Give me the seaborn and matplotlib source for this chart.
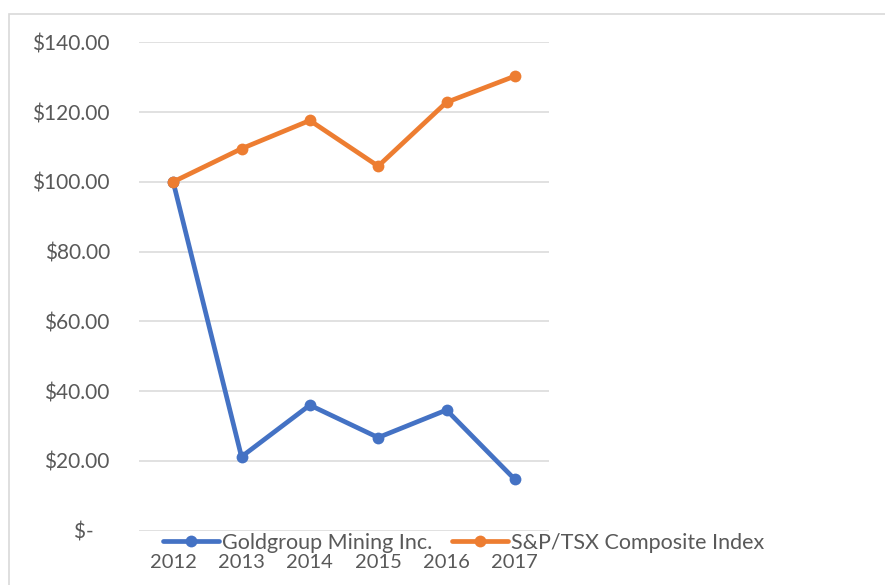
import matplotlib
matplotlib.use("Agg")
import matplotlib.pyplot as plt
import seaborn as sns
import pandas as pd
from matplotlib.patches import Rectangle
from matplotlib.lines import Line2D

years = [2012, 2013, 2014, 2015, 2016, 2017]
goldgroup = [100.0, 21.2, 36.0, 26.7, 34.6, 14.7]
sptsx = [100.0, 109.5, 117.6, 104.5, 122.8, 130.3]
series_names = ["Goldgroup Mining Inc.", "S&P/TSX Composite Index"]
y_ticks = [0, 20, 40, 60, 80, 100, 120, 140]
y_labels = ["$-   ", "$20.00", "$40.00", "$60.00", "$80.00", "$100.00", "$120.00", "$140.00"]

df = pd.DataFrame({
    "year": years * 2,
    "value": goldgroup + sptsx,
    "series": [series_names[0]] * len(years) + [series_names[1]] * len(years),
})

sns.set_theme(style="white")
plt.rcParams["font.family"] = ["Lato", "DejaVu Sans"]

fig = plt.figure(figsize=(8.85, 5.85), dpi=100)
W, H = 885, 585
ax = fig.add_axes([139 / W, 1 - 530.7 / H, (549 - 139) / W, (530.7 - 42.3) / H])

# outer chart border
fig.patches.append(Rectangle((9 / W, -0.05), 1.0, 1 - 14 / H + 0.05,
                             transform=fig.transFigure, fill=False,
                             edgecolor="#d9d9d9", linewidth=1.2, zorder=0))

palette = {series_names[0]: "#4472c4", series_names[1]: "#ed7d31"}
sns.lineplot(data=df, x="year", y="value", hue="series", palette=palette,
             marker="o", markersize=8.5, markeredgewidth=0, linewidth=3.4,
             ax=ax, legend=False, zorder=3)

ax.set_xlim(years[0] - 0.5, years[-1] + 0.5)
ax.set_ylim(0, 140)
ax.set_yticks(y_ticks)
ax.set_yticklabels(y_labels)
ax.set_xticks(years)
ax.set_xticklabels([str(y) for y in years])
ax.set_xlabel("")
ax.set_ylabel("")
ax.grid(axis="y", color="#d9d9d9", linewidth=1.1)
ax.grid(axis="x", visible=False)
for s in ax.spines.values():
    s.set_visible(False)
ax.tick_params(axis="y", length=0, pad=21, labelsize=15, labelcolor="#595959")
ax.tick_params(axis="x", length=0, pad=16.5, labelsize=14.5, labelcolor="#595959")

handles = [Line2D([0], [0], color=palette[n], linewidth=3.4, marker="o",
                  markersize=8.5, markeredgewidth=0) for n in series_names]
fig.legend(handles, series_names, loc="center", bbox_to_anchor=(463.5 / W, 1 - 543 / H),
           ncol=2, frameon=False, fontsize=15.5, labelcolor="#595959",
           handlelength=2.6, handletextpad=0.14, columnspacing=0.9,
           borderpad=0, borderaxespad=0)

fig.savefig("out.png", dpi=100)
